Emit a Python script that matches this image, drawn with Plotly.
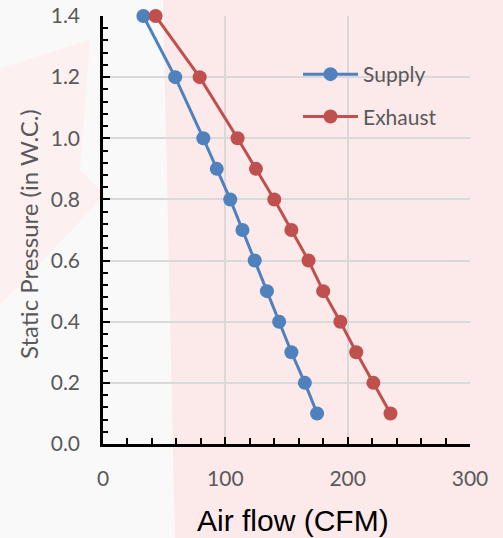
import plotly.graph_objects as go

# ---- data ----
pressure = [1.4, 1.2, 1.0, 0.9, 0.8, 0.7, 0.6, 0.5, 0.4, 0.3, 0.2, 0.1]
supply_cfm = [33, 59, 82, 93, 104, 114, 124, 134, 144, 154, 165, 175]
exhaust_cfm = [43, 79, 110, 125, 140, 154, 168, 180, 194, 207, 221, 235]
series_names = ["Supply", "Exhaust"]
series_colors = ["#4F81BD", "#C0504D"]

W, H = 503, 538
ML, MR, MT, MB = 103, 33, 16, 94
PW, PH = W - ML - MR, H - MT - MB

def px(x):
    return (x - ML) / PW

def py(y):
    return (H - MB - y) / PH

FONT = "Lato, Carlito, 'Open Sans', sans-serif"
GRAY = "#595959"

fig = go.Figure()
for name, xs, col in zip(series_names, [supply_cfm, exhaust_cfm], series_colors):
    fig.add_trace(go.Scatter(
        x=xs, y=pressure, name=name, mode="lines+markers",
        line=dict(color=col, width=3),
        marker=dict(color=col, size=14),
        cliponaxis=False,
        legendgroup=name,
    ))

# faint watermark-like background
shapes = [
    dict(type="path", xref="paper", yref="paper", layer="below",
         path=f"M{px(163)},{py(0)} L{px(503)},{py(0)} L{px(503)},{py(538)} L{px(175)},{py(538)} Z",
         fillcolor="#fce9e9", line=dict(width=0)),
    dict(type="path", xref="paper", yref="paper", layer="below",
         path=f"M{px(0)},{py(68)} L{px(90)},{py(40)} L{px(80)},{py(170)} L{px(105)},{py(195)} L{px(0)},{py(305)} Z",
         fillcolor="#fdf0f0", line=dict(width=0)),
]

fig.update_layout(
    width=W, height=H,
    margin=dict(l=ML, r=MR, t=MT, b=MB, autoexpand=False),
    paper_bgcolor="#f9f9f9",
    plot_bgcolor="rgba(0,0,0,0)",
    font=dict(family=FONT, color=GRAY, size=21),
    shapes=shapes,
    showlegend=True,
    legend=dict(
        x=px(298), y=py(54), xanchor="left", yanchor="top",
        bgcolor="rgba(0,0,0,0)", font=dict(family=FONT, size=21, color=GRAY),
        tracegroupgap=12, itemwidth=55,
    ),
    annotations=[
        dict(text="Air flow (CFM)", xref="paper", yref="paper",
             x=px(293), y=py(520), xanchor="center", yanchor="middle",
             showarrow=False, font=dict(family="Liberation Sans, Arial, sans-serif", size=30, color="#000000")),
        dict(text="Static Pressure (in W.C.)", xref="paper", yref="paper",
             x=px(28), y=py(234), xanchor="center", yanchor="middle", textangle=-90,
             showarrow=False, font=dict(family=FONT, size=24, color=GRAY)),
    ],
)

fig.update_xaxes(
    range=[0, 300], dtick=100, tick0=0, automargin=False,
    showgrid=True, gridcolor="#d9d9d9", gridwidth=1.5,
    showline=True, linecolor="#000000", linewidth=2.5,
    ticks="inside", ticklen=7, tickwidth=2, tickcolor="#000000",
    minor=dict(dtick=20, ticks="inside", ticklen=6, tickwidth=2, tickcolor="#000000", showgrid=False),
    ticklabelstandoff=14, zeroline=False,
    tickfont=dict(family=FONT, size=21, color=GRAY),
)
fig.update_yaxes(
    range=[0, 1.4], dtick=0.2, tick0=0, tickformat=".1f", automargin=False,
    showgrid=True, gridcolor="#d9d9d9", gridwidth=1.5,
    showline=True, linecolor="#000000", linewidth=2.5,
    ticks="inside", ticklen=7, tickwidth=2, tickcolor="#000000",
    minor=dict(dtick=0.04, ticks="inside", ticklen=5, tickwidth=2, tickcolor="#000000", showgrid=False),
    ticklabelstandoff=16, zeroline=False,
    tickfont=dict(family=FONT, size=21, color=GRAY),
)

fig.write_html(
    "out.html",
    config={"displayModeBar": False},
    post_script="document.body.style.margin='0';document.body.style.overflow='hidden';",
)
